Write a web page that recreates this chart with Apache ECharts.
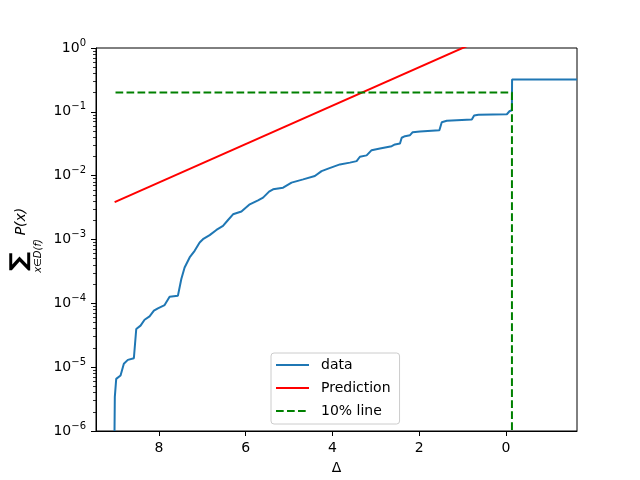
<!DOCTYPE html>
<html>
<head>
<meta charset="utf-8">
<script src="https://cdn.jsdelivr.net/npm/echarts@6/dist/echarts.min.js"></script>
<style>html,body{margin:0;padding:0;background:#fff}#c{width:640px;height:480px}</style>
</head>
<body>
<div id="c"></div>
<script>
// ---- data ----
const dataDelta = [9.023, 9.016, 8.984, 8.884, 8.808, 8.716, 8.577, 8.522, 8.423, 8.330, 8.215, 8.115, 8.023, 7.868, 7.753, 7.561, 7.530, 7.483, 7.407, 7.291, 7.176, 7.060, 6.984, 6.829, 6.674, 6.522, 6.406, 6.291, 6.097, 5.905, 5.714, 5.598, 5.460, 5.367, 5.136, 4.942, 4.674, 4.404, 4.249, 4.097, 3.827, 3.596, 3.441, 3.365, 3.210, 3.095, 2.903, 2.633, 2.557, 2.441, 2.402, 2.326, 2.210, 2.148, 1.979, 1.533, 1.478, 1.363, 0.785, 0.732, 0.633, -0.023, -0.083, -0.139, -0.143, -1.64];
const dataP = [1e-6, 3.43e-6, 6.56e-6, 7.39e-6, 1.13e-5, 1.30e-5, 1.38e-5, 3.96e-5, 4.47e-5, 5.54e-5, 6.26e-5, 7.66e-5, 8.36e-5, 9.4e-5, 1.27e-4, 1.32e-4, 1.33e-4, 2.40e-4, 3.65e-4, 5.23e-4, 6.64e-4, 8.98e-4, 1.01e-3, 1.17e-3, 1.41e-3, 1.63e-3, 2.02e-3, 2.48e-3, 2.74e-3, 3.56e-3, 4.11e-3, 4.53e-3, 5.62e-3, 6.11e-3, 6.49e-3, 7.78e-3, 8.75e-3, 9.86e-3, 1.18e-2, 1.29e-2, 1.50e-2, 1.60e-2, 1.69e-2, 1.98e-2, 2.08e-2, 2.51e-2, 2.67e-2, 2.90e-2, 3.08e-2, 3.20e-2, 3.93e-2, 4.16e-2, 4.31e-2, 4.80e-2, 4.92e-2, 5.16e-2, 6.88e-2, 7.23e-2, 7.58e-2, 8.75e-2, 8.98e-2, 9.17e-2, 0.102, 0.106, 0.32, 0.32];
const predDelta = [9.02, -0.14];
const predP = [0.00385, 2.2];
const lineDelta = [9.0, -0.14, -0.14];
const lineP = [0.2, 0.2, 1e-6];
const xTicks = [0, 2, 4, 6, 8];
const yDecades = [-6, -5, -4, -3, -2, -1, 0];
const minorMultipliers = [2, 3, 4, 5, 6, 7, 8, 9];
const seriesNames = ['data', 'Prediction', '10% line'];

// minor tick positions in log10 space (drawn by a hidden linear axis spanning the same decades)
const yMinorLog = [];
yDecades.slice(0, -1).forEach(e => minorMultipliers.forEach(m => yMinorLog.push(e + Math.log10(m))));

const zip = (a, b) => a.map((v, i) => [v, b[i]]);
const font = 'DejaVu Sans';
const chart = echarts.init(document.getElementById('c'), null, {renderer: 'canvas'});
chart.setOption({
  animation: false,
  backgroundColor: '#fff',
  textStyle: {fontFamily: font},
  grid: {left: 96, right: 63, top: 48, bottom: 48, show: true, borderColor: '#000', borderWidth: 1, containLabel: false},
  xAxis: {
    type: 'value', inverse: true, min: -1.64, max: 9.45,
    name: 'Δ', nameLocation: 'middle', nameGap: 30,
    nameTextStyle: {fontSize: 14, color: '#000', fontFamily: font},
    axisLine: {show: true, onZero: false, lineStyle: {color: '#000', width: 1}},
    axisTick: {show: true, length: 5, lineStyle: {color: '#000', width: 1}, customValues: xTicks},
    axisLabel: {fontSize: 14, color: '#000', margin: 10, fontFamily: font, customValues: xTicks},
    splitLine: {show: false}
  },
  yAxis: [{
    type: 'log', logBase: 10, min: 1e-6, max: 1,
    axisLine: {show: true, onZero: false, lineStyle: {color: '#000', width: 1}},
    axisTick: {show: true, length: 5, lineStyle: {color: '#000', width: 1}},
    axisLabel: {
      color: '#000', margin: 10, fontFamily: font,
      formatter: v => {
        const e = Math.round(Math.log10(v));
        return '{b|10}{s|' + (e < 0 ? '\u2212' + (-e) : e) + '}';
      },
      rich: {
        b: {fontSize: 14, fontFamily: font, color: '#000'},
        s: {fontSize: 10, fontFamily: font, color: '#000', padding: [0, 0, 10, 0]}
      }
    },
    splitLine: {show: false}
  }, {
    type: 'value', min: yDecades[0], max: yDecades[yDecades.length - 1], position: 'left', offset: 0,
    axisLine: {show: false, onZero: false},
    axisTick: {show: true, length: 3, lineStyle: {color: '#000', width: 0.8}, customValues: yMinorLog},
    axisLabel: {show: false},
    splitLine: {show: false}
  }],
  legend: {
    orient: 'vertical', left: 271, top: 353,
    data: seriesNames,
    itemWidth: 33, itemHeight: 14, itemGap: 9,
    padding: [5, 9, 6, 4],
    borderColor: '#cccccc', borderWidth: 1, borderRadius: 3,
    backgroundColor: 'rgba(255,255,255,0.8)',
    itemStyle: {opacity: 0},
    textStyle: {fontSize: 14, color: '#000', fontFamily: font, padding: [0, 0, 0, 7]}
  },
  graphic: [{
    type: 'group', x: 25, y: 255, rotation: Math.PI / 2,
    children: [
      {type: 'text', x: -6.5, y: -5, scaleX: 1.15, style: {text: '\u2211', fontSize: 23, fontWeight: 'bold', fontFamily: font, fill: '#000', align: 'center', verticalAlign: 'middle'}},
      {type: 'text', x: 33.5, y: -4, style: {text: 'P(x)', fontSize: 14, fontStyle: 'italic', fontFamily: font, fill: '#000', align: 'center', verticalAlign: 'middle'}},
      {type: 'text', x: -1, y: 13, style: {text: 'x\u2208D(f)', fontSize: 10, fontStyle: 'italic', fontFamily: font, fill: '#000', align: 'center', verticalAlign: 'middle'}}
    ]
  }],
  series: [{
    name: seriesNames[0], type: 'line', data: zip(dataDelta, dataP), showSymbol: false, symbol: 'none',
    lineStyle: {color: '#1f77b4', width: 2}, itemStyle: {color: '#1f77b4'}, clip: true
  }, {
    name: seriesNames[1], type: 'line', data: zip(predDelta, predP), showSymbol: false, symbol: 'none',
    lineStyle: {color: '#ff0000', width: 2}, itemStyle: {color: '#ff0000'}, clip: true
  }, {
    name: seriesNames[2], type: 'line', data: zip(lineDelta, lineP), showSymbol: false, symbol: 'none',
    lineStyle: {color: '#008000', width: 2, type: [7.7, 3.3]}, itemStyle: {color: '#008000'}, clip: true
  }]
});
</script>
</body>
</html>
